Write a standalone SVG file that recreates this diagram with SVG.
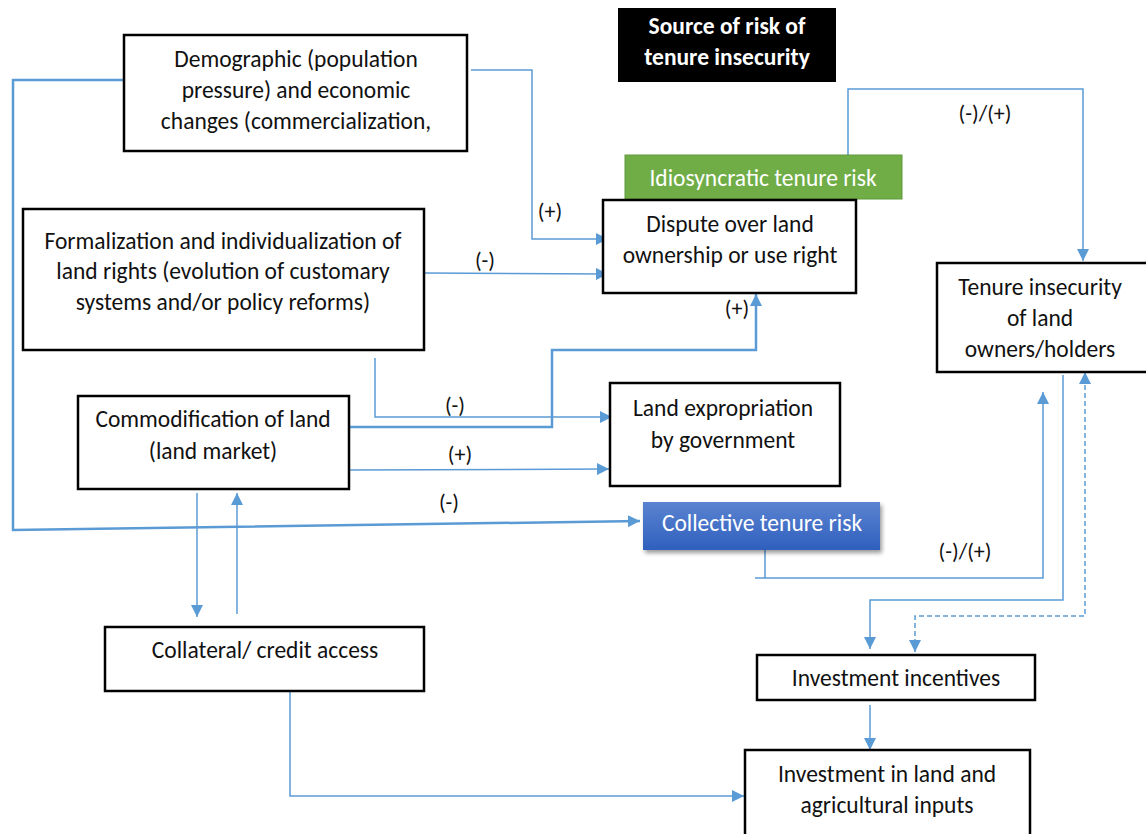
<svg xmlns="http://www.w3.org/2000/svg" width="1146" height="834" viewBox="0 0 1146 834">
<style>
.box{fill:#fff;stroke:#000;stroke-width:2.5}
.t{font-family:Carlito,Lato,"Liberation Sans",sans-serif;font-size:23.5px;fill:#111;text-anchor:middle}
.lbl{font-family:Carlito,Lato,"Liberation Sans",sans-serif;font-size:22px;fill:#111;text-anchor:middle}
.c{fill:none;stroke:#5b9bd5;stroke-width:1.5}
.ct{fill:none;stroke:#5b9bd5;stroke-width:2.5}
.w{font-family:Carlito,Lato,"Liberation Sans",sans-serif;font-size:23.5px;fill:#fff;text-anchor:middle}
</style>
<defs>
<marker id="ah" viewBox="0 0 10 10" refX="10" refY="5" markerWidth="12" markerHeight="12" markerUnits="userSpaceOnUse" orient="auto-start-reverse">
<path d="M0,0 L10,5 L0,10 z" fill="#5b9bd5"/>
</marker>
<linearGradient id="blue" x1="0" y1="0" x2="0" y2="1">
<stop offset="0" stop-color="#5b83d1"/>
<stop offset="1" stop-color="#2f5fbd"/>
</linearGradient>
<filter id="sh" x="-10%" y="-20%" width="130%" height="160%">
<feGaussianBlur in="SourceAlpha" stdDeviation="2"/>
<feOffset dx="2" dy="3"/>
<feComponentTransfer><feFuncA type="linear" slope="0.4"/></feComponentTransfer>
<feMerge><feMergeNode/><feMergeNode in="SourceGraphic"/></feMerge>
</filter>
</defs>
<rect width="1146" height="834" fill="#fff"/>

<g id="connectors">
<polyline class="ct" points="124,80 13,80 13,530 640,521" marker-end="url(#ah)"/>
<polyline class="c" points="471,70 532,70 532,239 608,239" marker-end="url(#ah)"/>
<polyline class="c" points="424,273 608,274" marker-end="url(#ah)"/>
<polyline class="c" points="375,358 375,417 612,417" marker-end="url(#ah)"/>
<polyline class="ct" points="349,427 552,427 552,350 756,350 756,294" marker-end="url(#ah)"/>
<polyline class="c" points="347,470 609,469" marker-end="url(#ah)"/>
<polyline class="c" points="197,493 197,617" marker-end="url(#ah)"/>
<polyline class="c" points="237,614 237,493" marker-end="url(#ah)"/>
<polyline class="c" points="290,690 290,796 744,796" marker-end="url(#ah)"/>
<polyline class="c" points="848,158 848,89 1083,89 1083,261" marker-end="url(#ah)"/>
<polyline class="c" points="765,537 765,578 1043,578 1043,392" marker-end="url(#ah)"/>
<line class="c" x1="755" y1="578" x2="765" y2="578"/>
<polyline class="c" points="1063,375 1063,600 870,600 870,649" marker-end="url(#ah)"/>
<polyline class="c" points="915,652 915,616 1085,616 1085,372" stroke-dasharray="5,3" marker-start="url(#ah)" marker-end="url(#ah)"/>
<polyline class="c" points="870,705 870,750" marker-end="url(#ah)"/>
<text class="lbl" x="449" y="510">(-)</text>
<text class="lbl" x="550" y="219">(+)</text>
<text class="lbl" x="485" y="268">(-)</text>
<text class="lbl" x="455" y="413">(-)</text>
<text class="lbl" x="737" y="316">(+)</text>
<text class="lbl" x="460" y="462">(+)</text>
<text class="lbl" x="985" y="121">(-)/(+)</text>
<text class="lbl" x="965" y="559">(-)/(+)</text>
</g>

<g id="source">
<rect x="618" y="8" width="218" height="74" fill="#000"/>
<text class="w" x="727" y="34" font-weight="bold">Source of risk of</text>
<text class="w" x="727" y="65" font-weight="bold">tenure insecurity</text>
</g>

<g id="demographic">
<rect class="box" x="124" y="35" width="343" height="116"/>
<text class="t" x="296" y="67">Demographic (population</text>
<text class="t" x="296" y="98">pressure) and economic</text>
<text class="t" x="296" y="129">changes (commercialization,</text>
</g>

<g id="formalization">
<rect class="box" x="23" y="209" width="401" height="141"/>
<text class="t" x="223" y="249">Formalization and individualization of</text>
<text class="t" x="223" y="279">land rights (evolution of customary</text>
<text class="t" x="223" y="310">systems and/or policy reforms)</text>
</g>

<g id="commodification">
<rect class="box" x="78" y="396" width="271" height="93"/>
<text class="t" x="213" y="427">Commodification of land</text>
<text class="t" x="213" y="459">(land market)</text>
</g>

<g id="collateral">
<rect class="box" x="105" y="627" width="319" height="64"/>
<text class="t" x="265" y="658">Collateral/ credit access</text>
</g>

<g id="idiosyncratic">
<rect x="625" y="155" width="277" height="44" fill="#70ad47" stroke="#5f9a3b" stroke-width="1"/>
<text class="w" x="763" y="186" fill="#f2f2f2">Idiosyncratic tenure risk</text>
</g>

<g id="dispute">
<rect class="box" x="603" y="200" width="253" height="93"/>
<text class="t" x="730" y="232">Dispute over land</text>
<text class="t" x="730" y="263">ownership or use right</text>
</g>

<g id="expropriation">
<rect class="box" x="610" y="383" width="230" height="103"/>
<text class="t" x="723" y="416">Land expropriation</text>
<text class="t" x="723" y="448">by government</text>
</g>

<g id="collective">
<rect x="643" y="502" width="237" height="48" fill="url(#blue)" filter="url(#sh)"/>
<text class="w" x="762" y="531">Collective tenure risk</text>
</g>

<g id="tenure">
<rect class="box" x="937" y="263" width="212" height="109"/>
<text class="t" x="1040" y="295">Tenure insecurity</text>
<text class="t" x="1040" y="326">of land</text>
<text class="t" x="1040" y="357">owners/holders</text>
</g>

<g id="incentives">
<rect class="box" x="757" y="655" width="278" height="45"/>
<text class="t" x="896" y="686">Investment incentives</text>
</g>

<g id="investment">
<rect class="box" x="745" y="750" width="285" height="90"/>
<text class="t" x="887" y="782">Investment in land and</text>
<text class="t" x="887" y="813">agricultural inputs</text>
</g>
</svg>
